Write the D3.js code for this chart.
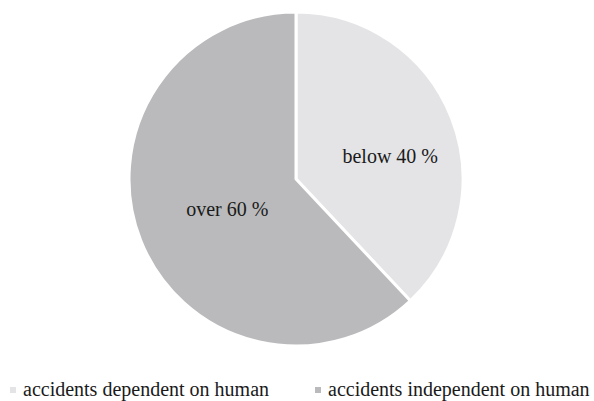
<!DOCTYPE html>
<html>
<head>
<meta charset="utf-8">
<script src="https://cdn.jsdelivr.net/npm/d3@7"></script>
<style>
  body { margin: 0; background: #fff; }
  text { font-family: "Liberation Serif", "Times New Roman", serif; fill: #1a1a1a; }
</style>
</head>
<body>
<script>
var categories = ["accidents dependent on human", "accidents independent on human"];
var values = [38, 62];
var sliceLabels = ["below 40 %", "over 60 %"];
var colors = ["#e4e4e6", "#bababc"];
// label placement inside each slice: [fraction of radius, fraction along slice angle]
var labelPlace = [[0.58, 0.56], [0.45, 0.49]];

var width = 594, height = 401;
var svg = d3.select("body").append("svg")
    .attr("width", width)
    .attr("height", height);

var cx = 296, cy = 179, r = 167;

var pie = d3.pie().sort(null).value(function(d) { return d; });
var arc = d3.arc().innerRadius(0).outerRadius(r);

var g = svg.append("g").attr("transform", "translate(" + cx + "," + cy + ")");

var arcs = pie(values);

g.selectAll("path.slice")
    .data(arcs)
  .enter().append("path")
    .attr("class", "slice")
    .attr("d", arc)
    .attr("fill", function(d, i) { return colors[i]; })
    .attr("stroke", "#fff")
    .attr("stroke-width", 3)
    .attr("stroke-linejoin", "round");

g.selectAll("text.lab")
    .data(arcs)
  .enter().append("text")
    .attr("class", "lab")
    .attr("transform", function(d, i) {
      var p = labelPlace[i];
      var a = d.startAngle + (d.endAngle - d.startAngle) * p[1];
      var rr = r * p[0];
      return "translate(" + (Math.sin(a) * rr) + "," + (-Math.cos(a) * rr) + ")";
    })
    .attr("text-anchor", "middle")
    .attr("dy", "0.32em")
    .style("font-size", "20px")
    .text(function(d, i) { return sliceLabels[i]; });

// legend
var legendX = [10, 315];
var legend = svg.selectAll("g.legend")
    .data(categories)
  .enter().append("g")
    .attr("class", "legend")
    .attr("transform", function(d, i) { return "translate(" + legendX[i] + ",387)"; });

legend.append("rect")
    .attr("x", 0).attr("y", 0)
    .attr("width", 6).attr("height", 6)
    .attr("fill", function(d, i) { return colors[i]; });

legend.append("text")
    .attr("x", 13)
    .attr("y", 8.5)
    .style("font-size", "20px")
    .text(function(d) { return d; });
</script>
</body>
</html>
